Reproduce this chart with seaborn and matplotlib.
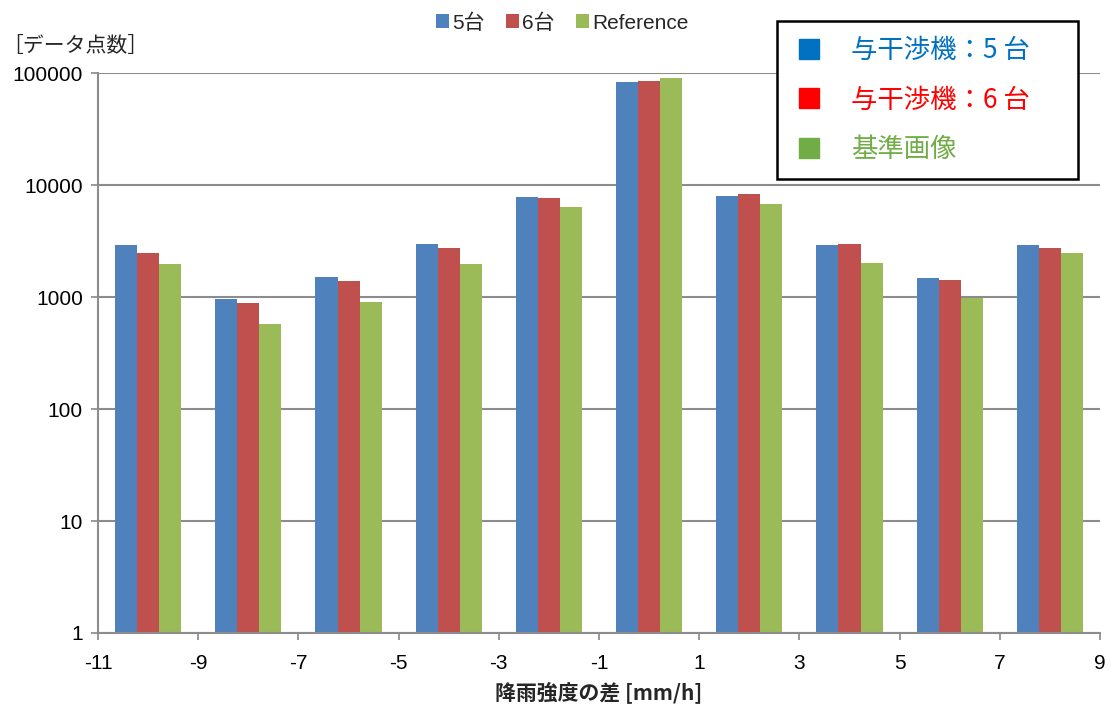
import numpy as np
import pandas as pd
import matplotlib
matplotlib.use("Agg")
import matplotlib.pyplot as plt
from matplotlib.lines import Line2D
import seaborn as sns

# Difference in rainfall intensity (bin centres, mm/h)
diffs = [-10, -8, -6, -4, -2, 0, 2, 4, 6, 8]
# Number of data points per bin
five_units = [2910, 960, 1530, 3020, 7890, 83400, 8030, 2950, 1500, 2950]
six_units = [2510, 896, 1400, 2740, 7680, 85700, 8350, 3020, 1440, 2740]
reference = [1980, 572, 913, 1970, 6380, 91800, 6800, 2040, 980, 2510]

series_names = ["5台", "6台", "Reference"]
bar_colors = ["#4F81BD", "#C0504D", "#9BBB59"]

x_ticks = [-11, -9, -7, -5, -3, -1, 1, 3, 5, 7, 9]
y_ticks = [1, 10, 100, 1000, 10000, 100000]
y_tick_labels = ["1", "10", "100", "1000", "10000", "100000"]

box_labels = ["与干渉機：5 台", "与干渉機：6 台", "基準画像"]
box_colors = ["#0070C0", "#FF0000", "#70AD47"]

df = pd.DataFrame({
    "diff": diffs * 3,
    "count": five_units + six_units + reference,
    "series": sum([[n] * len(diffs) for n in series_names], []),
})

sns.set_theme(style="white")
latin = ["Liberation Sans", "Noto Sans CJK JP"]
cjk = ["Noto Sans CJK JP", "Liberation Sans"]
plt.rcParams["font.family"] = latin

fig = plt.figure(figsize=(11.18, 7.06), dpi=100)
ax = fig.add_axes([0.0877, 0.1034, 0.8962, 0.7925])

sns.barplot(
    data=df, x="diff", y="count", hue="series",
    hue_order=series_names, palette=dict(zip(series_names, bar_colors)),
    native_scale=True, width=0.66, gap=0,
    saturation=1, linewidth=0, ax=ax,
)
ax.set_yscale("log")

ax.set_ylim(1, 100000)
ax.set_xlim(-11, 9)
ax.set_yticks(y_ticks)
ax.set_yticklabels(y_tick_labels)
ax.yaxis.set_minor_locator(matplotlib.ticker.NullLocator())
ax.set_xticks(x_ticks)
ax.set_xticklabels([str(v) for v in x_ticks])
ax.tick_params(axis="both", labelsize=15, labelcolor="#000000", direction="out",
               length=5, width=1.2, color="#888888", bottom=True, left=True)
ax.tick_params(axis="x", pad=10)
ax.tick_params(axis="y", pad=6)

ax.grid(axis="y", color="#8C8C8C", linewidth=1.5)
ax.set_axisbelow(True)
for side in ["top", "right"]:
    ax.spines[side].set_visible(False)
for side in ["left", "bottom"]:
    ax.spines[side].set_color("#8C8C8C")
    ax.spines[side].set_linewidth(1.5)

ax.set_xlabel("降雨強度の差 [mm/h]", fontsize=15, fontweight="bold",
              family=cjk, labelpad=6)
ax.set_ylabel("")
fig.text(0.002, 0.935, "［データ点数］", fontsize=15, family=cjk,
         ha="left", va="center")

# Series legend along the top
sns.move_legend(
    ax, "upper center", bbox_to_anchor=(0.503, 1.008),
    bbox_transform=fig.transFigure, ncol=3, frameon=False, title=None,
    fontsize=15, handlelength=0.65, handleheight=0.65, handletextpad=0.15,
    columnspacing=1.0,
)

# Boxed key with coloured captions
handles = [Line2D([], [], linestyle="none", marker="s", markersize=14.5,
                  markerfacecolor=c, markeredgecolor=c) for c in box_colors]
key = fig.legend(
    handles, box_labels, loc="upper left",
    bbox_to_anchor=(0.695, 0.749, 0.269, 0.221), mode="expand",
    labelcolor=box_colors, prop={"family": cjk, "size": 19},
    frameon=True, fancybox=False, edgecolor="#000000", framealpha=1,
    borderpad=0.6, labelspacing=0.85, handlelength=1.2, handletextpad=1.0,
    borderaxespad=0,
)
key.get_frame().set_linewidth(1.8)

fig.savefig("out.png", dpi=100)
